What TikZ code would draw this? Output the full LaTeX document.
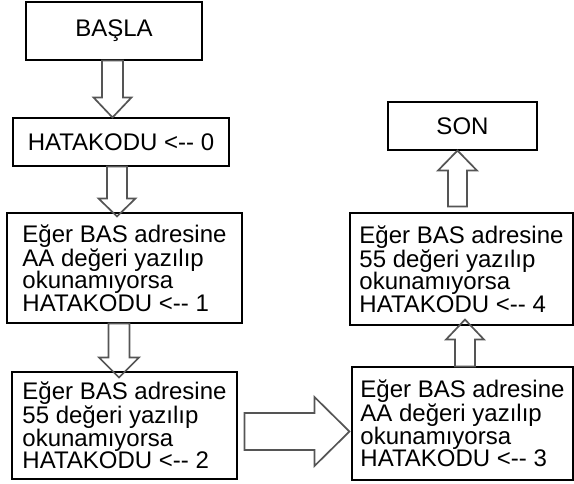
\documentclass[tikz,border=0pt]{standalone}
\usepackage{fontspec}
\setmainfont{Liberation Sans}
\usetikzlibrary{calc}
\definecolor{arrowgray}{RGB}{85,85,85}
% #1 start, #2 tip, #3 shaft half width, #4 head half width, #5 signed offset of head base from tip
\newcommand\vblock[5]{%
  \draw[blk] ($(#1)+(-#3,0)$) -- ($(#2)+(-#3,#5)$) -- ($(#2)+(-#4,#5)$) -- (#2)
    -- ($(#2)+(#4,#5)$) -- ($(#2)+(#3,#5)$) -- ($(#1)+(#3,0)$) -- cycle;}
\begin{document}
\begin{tikzpicture}[x=1pt,y=-1pt,
  box/.style={draw=black, line width=1.1pt, inner sep=0pt,
    font=\fontsize{24}{22.5}\selectfont, align=left},
  blk/.style={draw=arrowgray, line width=1.7pt, line join=miter}]
\useasboundingbox (0,0) rectangle (574,483);

\node[box, minimum width=176pt, minimum height=58pt] (start) at (114,31) {BAŞLA};
\node[box, minimum width=216pt, minimum height=48pt] (h0) at (121,142) {HATAKODU <-{}- 0};
\node[box, minimum width=235pt, minimum height=110pt] (b1) at (124.5,268)
  {Eğer BAS adresine\\AA değeri yazılıp\\okunamıyorsa\\HATAKODU <-{}- 1};
\node[box, minimum width=225pt, minimum height=107pt] (b2) at (124.5,425.5)
  {Eğer BAS adresine\\55 değeri yazılıp\\okunamıyorsa\\HATAKODU <-{}- 2};
\node[box, minimum width=221pt, minimum height=113pt] (b3) at (462.5,423.5)
  {Eğer BAS adresine\\AA değeri yazılıp\\okunamıyorsa\\HATAKODU <-{}- 3};
\node[box, minimum width=223pt, minimum height=112pt] (b4) at (461.5,269)
  {Eğer BAS adresine\\55 değeri yazılıp\\okunamıyorsa\\HATAKODU <-{}- 4};
\node[box, minimum width=149pt, minimum height=48pt] (son) at (462.5,126) {SON};

% down arrows, left column
\coordinate (a1s) at ([xshift=-1.5pt]start.south);
\coordinate (a1t) at (a1s |- h0.north);
\vblock{a1s}{a1t}{10.5}{19}{-20}
\coordinate (a2s) at ([xshift=-4pt]h0.south);
\coordinate (a2t) at ([yshift=-4pt]a2s |- b1.north);
\vblock{a2s}{a2t}{10}{18.5}{-18}
\coordinate (a3s) at ([xshift=-5.5pt]b1.south);
\coordinate (a3t) at ([yshift=-6pt]a3s |- b2.north);
\vblock{a3s}{a3t}{10.5}{20}{-20}

% right arrow
\coordinate (a4s) at ([shift={(7,6)}]b2.east);
\coordinate (a4t) at ([xshift=-2pt]a4s -| b3.west);
\draw[blk] ($(a4s)+(0,-18.5)$) -- ($(a4t)+(-35,-18.5)$) -- ($(a4t)+(-35,-34.5)$) -- (a4t)
  -- ($(a4t)+(-35,34.5)$) -- ($(a4t)+(-35,18.5)$) -- ($(a4s)+(0,18.5)$) -- cycle;

% up arrows, right column
\coordinate (a5s) at ([xshift=2.5pt]b3.north);
\coordinate (a5t) at ([yshift=6pt]a5s |- b4.south);
\vblock{a5s}{a5t}{10}{19}{20}
\coordinate (a6s) at ([shift={(-4,-6)}]b4.north);
\coordinate (a6t) at (a6s |- son.south);
\vblock{a6s}{a6t}{9.5}{19.5}{20}
\end{tikzpicture}
\end{document}
